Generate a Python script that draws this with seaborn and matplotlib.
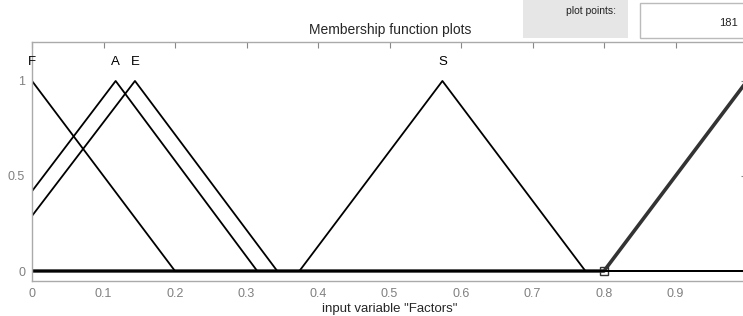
import matplotlib
matplotlib.use("Agg")
import matplotlib.pyplot as plt
import seaborn as sns
import pandas as pd
from matplotlib.patches import Rectangle

sns.set_style("white")
plt.rcParams['font.family'] = ['Liberation Sans', 'DejaVu Sans']

# Membership functions (vertices, over the range 0..1)
mf_names = ["F", "A", "E", "S"]
F_x = [0.0, 0.2, 1.0]
F_y = [1.0, 0.0, 0.0]
A_x = [0.0, 0.117, 0.315, 1.0]
A_y = [0.42, 1.0, 0.0, 0.0]
E_x = [0.0, 0.144, 0.343, 1.0]
E_y = [0.29, 1.0, 0.0, 0.0]
S_x = [0.0, 0.374, 0.574, 0.774, 1.0]
S_y = [0.0, 0.0, 1.0, 0.0, 0.0]
# selected MF (drawn thick)
sel_x = [0.0, 0.8, 1.0]
sel_y = [0.0, 0.0, 1.0]

peaks = [0.0, 0.117, 0.144, 0.574]

xticks = [0, 0.1, 0.2, 0.3, 0.4, 0.5, 0.6, 0.7, 0.8, 0.9, 1.0]
# label at 1 falls outside the visible window in the original
xtick_labels = ["0", "0.1", "0.2", "0.3", "0.4", "0.5", "0.6", "0.7", "0.8", "0.9", ""]
yticks = [0, 0.5, 1]
ytick_labels = ["0", "0.5", "1"]
plot_points = "181"

fig = plt.figure(figsize=(7.43, 3.16), dpi=100)
ax = fig.add_axes([32 / 743, 35 / 316, 715 / 743, 239 / 316])

# selected one first so black lines sit over it along zero
sel = pd.DataFrame({"x": sel_x, "y": sel_y})
sns.lineplot(data=sel, x="x", y="y", sort=False, estimator=None,
             color="#333333", linewidth=2.6, ax=ax)
ax.plot([sel_x[1]], [sel_y[1]], marker="s", markersize=6,
        markerfacecolor="none", markeredgecolor="#333333", markeredgewidth=1.0)

for xs, ys in [(F_x, F_y), (A_x, A_y), (E_x, E_y), (S_x, S_y)]:
    df = pd.DataFrame({"x": xs, "y": ys})
    sns.lineplot(data=df, x="x", y="y", sort=False, estimator=None,
                 color="black", linewidth=1.3, ax=ax)

for name, px in zip(mf_names, peaks):
    ax.text(px, 1.1, name, ha="center", va="center", fontsize=9.5, color="black")

ax.set_xlim(0, 1)
ax.set_ylim(-0.0526, 1.205)
ax.set_xticks(xticks)
ax.set_xticklabels(xtick_labels)
ax.set_yticks(yticks)
ax.set_yticklabels(ytick_labels)
ax.tick_params(direction="in", length=4, width=0.8, color="#888888",
               labelcolor="#808080", labelsize=9, top=True, right=True,
               pad=5)
for sp in ax.spines.values():
    sp.set_color("#aaaaaa")
    sp.set_linewidth(1.0)
ax.set_xlabel('input variable "Factors"', fontsize=9.5, labelpad=2)
ax.set_ylabel("")

fig.text(390 / 743, 1 - 30 / 316, "Membership function plots",
         ha="center", va="center", fontsize=10)

# "plot points" controls
fig.patches.append(Rectangle((523 / 743, 1 - 38 / 316), 105 / 743, 38 / 316,
                             transform=fig.transFigure, facecolor="#e6e6e6",
                             edgecolor="none"))
fig.text(616 / 743, 1 - 11 / 316, "plot points:", ha="right", va="center",
         fontsize=7.5, color="#222222")
fig.patches.append(Rectangle((640 / 743, 1 - 38 / 316), 110 / 743, 35 / 316,
                             transform=fig.transFigure, facecolor="white",
                             edgecolor="#bbbbbb", linewidth=1.0))
fig.text(738 / 743, 1 - 23 / 316, plot_points, ha="right", va="center",
         fontsize=8, color="#222222")

fig.savefig("out.png", dpi=100)
